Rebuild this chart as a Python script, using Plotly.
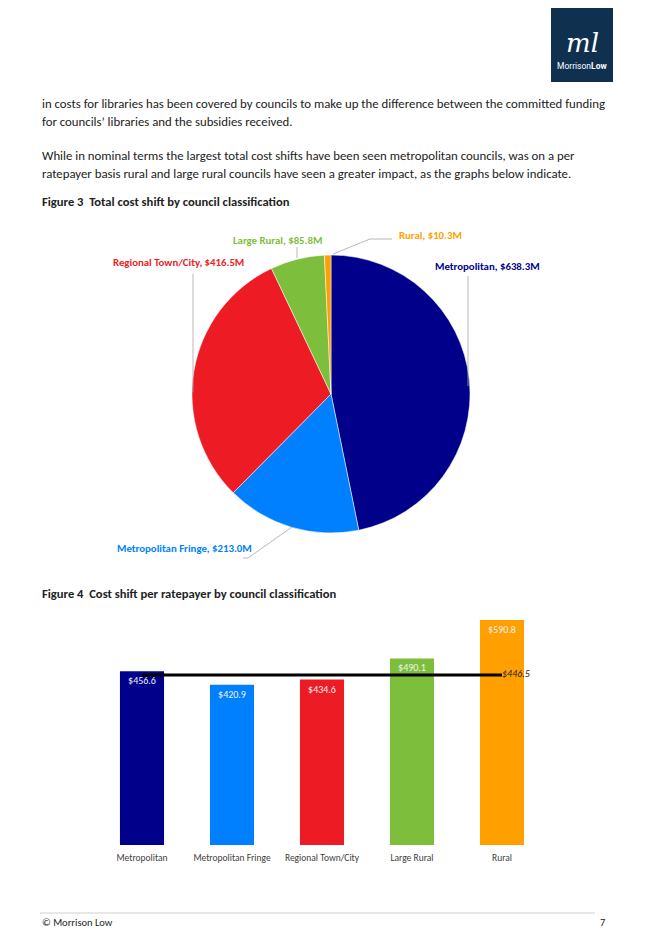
import plotly.graph_objects as go

W, H = 645, 936
OFF = 8  # browser body margin
FW, FH = W - OFF, H - OFF

# ---------------- data ----------------
pie_labels = ["Metropolitan", "Metropolitan Fringe", "Regional Town/City", "Large Rural", "Rural"]
pie_values = [638.3, 213.0, 416.5, 85.8, 10.3]

bar_categories = ["Metropolitan", "Metropolitan Fringe", "Regional Town/City", "Large Rural", "Rural"]
bar_values = [456.6, 420.9, 434.6, 490.1, 590.8]
average_value = 446.5

colors = ["#00008B", "#0080FF", "#ED1C24", "#7DBE3C", "#FFA000"]

body_lines = [
    "in costs for libraries has been covered by councils to make up the difference between the committed funding",
    "for councils\u2019 libraries and the subsidies received.",
    "While in nominal terms the largest total cost shifts have been seen metropolitan councils, was on a per",
    "ratepayer basis rural and large rural councils have seen a greater impact, as the graphs below indicate.",
]
fig3_title = "Figure 3  Total cost shift by council classification"
fig4_title = "Figure 4  Cost shift per ratepayer by council classification"

FONT = "Carlito, Lato, sans-serif"


def px(x, y):
    return (x - OFF) / FW, 1 - (y - OFF) / FH


fig = go.Figure()

# ---------------- pie ----------------
x0, y0 = px(192, 255)
x1, y1 = px(470, 533)
fig.add_trace(go.Pie(
    labels=pie_labels, values=pie_values, sort=False, direction="clockwise", rotation=0,
    marker=dict(colors=colors, line=dict(color="white", width=0.5)),
    textinfo="none", hoverinfo="label+value", showlegend=False,
    domain=dict(x=[x0, x1], y=[y1, y0]),
))

# ---------------- bars ----------------
bx0, by0 = px(97, 845)
bx1, by1 = px(547, 597.5)
fig.add_trace(go.Bar(
    x=bar_categories, y=bar_values, marker=dict(color=colors, line=dict(width=0)),
    text=[f"${v:.1f}" for v in bar_values], textposition="inside", insidetextanchor="end",
    textfont=dict(color="#F2F2F2", size=10, family=FONT), textangle=0,
    showlegend=False, xaxis="x", yaxis="y", cliponaxis=False,
))
fig.add_trace(go.Scatter(
    x=bar_categories, y=[average_value] * len(bar_categories), mode="lines+text",
    line=dict(color="black", width=3),
    text=[""] * (len(bar_categories) - 1) + [f"${average_value:.1f}"],
    textposition="middle right",
    textfont=dict(color="#222222", size=10, family=FONT, style="italic"),
    showlegend=False, xaxis="x", yaxis="y", cliponaxis=False,
))

fig.update_layout(
    width=FW, height=FH, margin=dict(l=0, r=0, t=0, b=0),
    paper_bgcolor="white", plot_bgcolor="white",
    bargap=0.51,
    xaxis=dict(domain=[bx0, bx1], showgrid=False, showline=False, zeroline=False,
               ticks="", ticklabelstandoff=5,
               tickfont=dict(size=9.5, color="#404040", family=FONT)),
    yaxis=dict(domain=[by0, by1], range=[0, 650], visible=False, showgrid=False),
    font=dict(family=FONT),
)

# ---------------- page text ----------------
ann = []


def text(x, y, s, size=12, color="#222222", xanchor="left", bold=False, italic=False, family=FONT):
    xp, yp = px(x, y)
    ann.append(dict(x=xp, y=yp, xref="paper", yref="paper", text=s, showarrow=False,
                    xanchor=xanchor, yanchor="middle",
                    font=dict(size=size, color=color, family=family,
                              weight="bold" if bold else "normal",
                              style="italic" if italic else "normal")))


for s, y in zip(body_lines, [104, 122, 155, 173]):
    text(40, y, s, size=12.8)
text(40, 201, fig3_title, size=12.6, bold=True)
text(40, 593, fig4_title, size=12.6, bold=True)

# pie labels
lab = {n: f"{n}, ${v:.1f}M" for n, v in zip(pie_labels, pie_values)}
text(277, 240, lab["Large Rural"], size=10.8, color=colors[3], xanchor="center", bold=True)
text(430, 235, lab["Rural"], size=10.8, color=colors[4], xanchor="center", bold=True)
text(178, 263, lab["Regional Town/City"], size=10.8, color=colors[2], xanchor="center", bold=True)
text(487, 267, lab["Metropolitan"], size=10.8, color=colors[0], xanchor="center", bold=True)
text(184, 548, lab["Metropolitan Fringe"], size=10.8, color=colors[1], xanchor="center", bold=True)

# footer
text(40, 922, "\u00a9 Morrison Low", size=10.5, color="#222222")
text(607, 922, "7", size=10.5, color="#222222", xanchor="right")

# logo text
text(582, 43, "<i>ml</i>", size=26, color="white", xanchor="center", family="DejaVu Serif")
text(582, 66, "Morrison<b>Low</b>", size=8.5, color="white", xanchor="center", family="Roboto")

fig.update_layout(annotations=ann)

# ---------------- shapes ----------------
shapes = []


def line(pts, color="#A6A6A6", width=0.8):
    path = "M " + " L ".join(f"{px(x, y)[0]} {px(x, y)[1]}" for x, y in pts)
    shapes.append(dict(type="path", path=path, xref="paper", yref="paper",
                       line=dict(color=color, width=width)))


line([(297, 247), (297, 258)])
line([(333, 254), (370, 239), (392, 239)])
line([(193, 274), (193, 392)])
line([(468, 276), (468, 386)])
line([(243, 558), (248, 558), (292, 527)])
# footer rule
line([(40, 913), (595, 913)], color="#D0D0D0", width=1)

lx0, ly0 = px(551, 7)
lx1, ly1 = px(613, 82)
shapes.insert(0, dict(type="rect", xref="paper", yref="paper", x0=lx0, x1=lx1, y0=ly1, y1=ly0,
                      fillcolor="#10304F", line=dict(width=0), layer="below"))
fig.update_layout(shapes=shapes)

fig.write_html("out.html")
